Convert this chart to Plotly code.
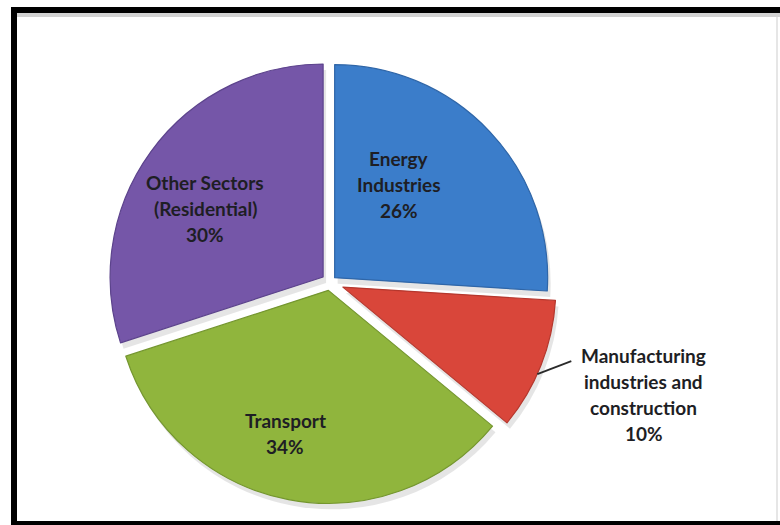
import math
import plotly.graph_objects as go

# Emission shares by sector (percent)
sectors = [
    "Energy Industries",
    "Manufacturing industries and construction",
    "Transport",
    "Other Sectors (Residential)",
]
label_lines = [
    ["Energy", "Industries"],
    ["Manufacturing", "industries and", "construction"],
    ["Transport"],
    ["Other Sectors", "(Residential)"],
]
shares = [26, 10, 34, 30]

# Styling
colors = ["#3b7dca", "#d9463a", "#90b53d", "#7556a8"]
edge_colors = ["#2f66a8", "#b5372d", "#74962f", "#5c438c"]
pulls = [0.03, 0.065, 0.04, 0.04]
# label placement: radius fraction and angular nudge (degrees) per slice
label_r = [0.53, 1.50, 0.70, 0.64]
label_turn = [-12, -2, 6, -6]

W, H = 780, 525
CX, CY = 330, 282
R = 213
half = R * (1 + max(pulls))


def px_to_paper(x, y):
    return x / W, 1 - y / H


def polar(cx, cy, r, ang_deg):
    a = math.radians(ang_deg)
    return cx + r * math.sin(a), cy - r * math.cos(a)


fig = go.Figure()

# soft drop shadow under the pie
fig.add_trace(go.Pie(
    labels=sectors, values=shares, sort=False, direction="clockwise",
    rotation=0, pull=pulls, textinfo="none", hoverinfo="skip",
    marker=dict(colors=["rgba(0,0,0,0.10)"] * 4, line=dict(width=0)),
    domain=dict(
        x=[(CX + 3 - half) / W, (CX + 3 + half) / W],
        y=[1 - (CY + 6 + half) / H, 1 - (CY + 6 - half) / H],
    ),
    showlegend=False,
))

fig.add_trace(go.Pie(
    labels=sectors, values=shares, sort=False, direction="clockwise",
    rotation=0, pull=pulls, textinfo="none",
    marker=dict(colors=colors, line=dict(color=edge_colors, width=1.2)),
    domain=dict(
        x=[(CX - half) / W, (CX + half) / W],
        y=[1 - (CY + half) / H, 1 - (CY - half) / H],
    ),
    showlegend=False,
))

annotations = []
shapes = []
total = sum(shares)
start = 0.0
line_gap = 26
for i, (lines, v) in enumerate(zip(label_lines, shares)):
    span = 360.0 * v / total
    mid = start + span / 2
    ox, oy = polar(0, 0, pulls[i] * R, mid)
    lx, ly = polar(CX + ox, CY + oy, label_r[i] * R, mid + label_turn[i])
    text_lines = lines + [f"{v}%"]
    n = len(text_lines)
    for k, t in enumerate(text_lines):
        yy = ly + (k - (n - 1) / 2) * line_gap
        px, py = px_to_paper(lx, yy)
        annotations.append(dict(
            x=px, y=py, xref="paper", yref="paper", text=t, showarrow=False,
            xanchor="center", yanchor="middle",
            font=dict(family="Lato", size=19, color="#1e1e24", weight="bold"),
        ))
    if label_r[i] > 1:
        # leader line from slice edge to the outside label
        ex, ey = polar(CX + ox, CY + oy, R, mid + 2.5)
        tx, ty = ex + 34, ey - 13
        x0, y0 = px_to_paper(ex, ey)
        x1, y1 = px_to_paper(tx, ty)
        shapes.append(dict(type="line", xref="paper", yref="paper",
                           x0=x0, y0=y0, x1=x1, y1=y1,
                           line=dict(color="#2a2a2a", width=1.8)))
    start += span

# picture frame
frame = [
    (11, 7, 780, 13, "#000000"),
    (11, 7, 17, 525, "#000000"),
    (11, 521, 780, 525, "#000000"),
    (17, 13, 780, 17, "#d2d2d2"),
    (776, 17, 778, 521, "#e6e6e6"),
]
for x0p, y0p, x1p, y1p, c in frame:
    a0, b0 = px_to_paper(x0p, y0p)
    a1, b1 = px_to_paper(x1p, y1p)
    shapes.append(dict(type="rect", xref="paper", yref="paper",
                       x0=a0, y0=b1, x1=a1, y1=b0,
                       line=dict(width=0), fillcolor=c, layer="above"))

fig.update_layout(
    width=W, height=H,
    margin=dict(l=0, r=0, t=0, b=0),
    paper_bgcolor="white", plot_bgcolor="white",
    annotations=annotations, shapes=shapes,
    showlegend=False,
)

fig.write_html("out.html")
